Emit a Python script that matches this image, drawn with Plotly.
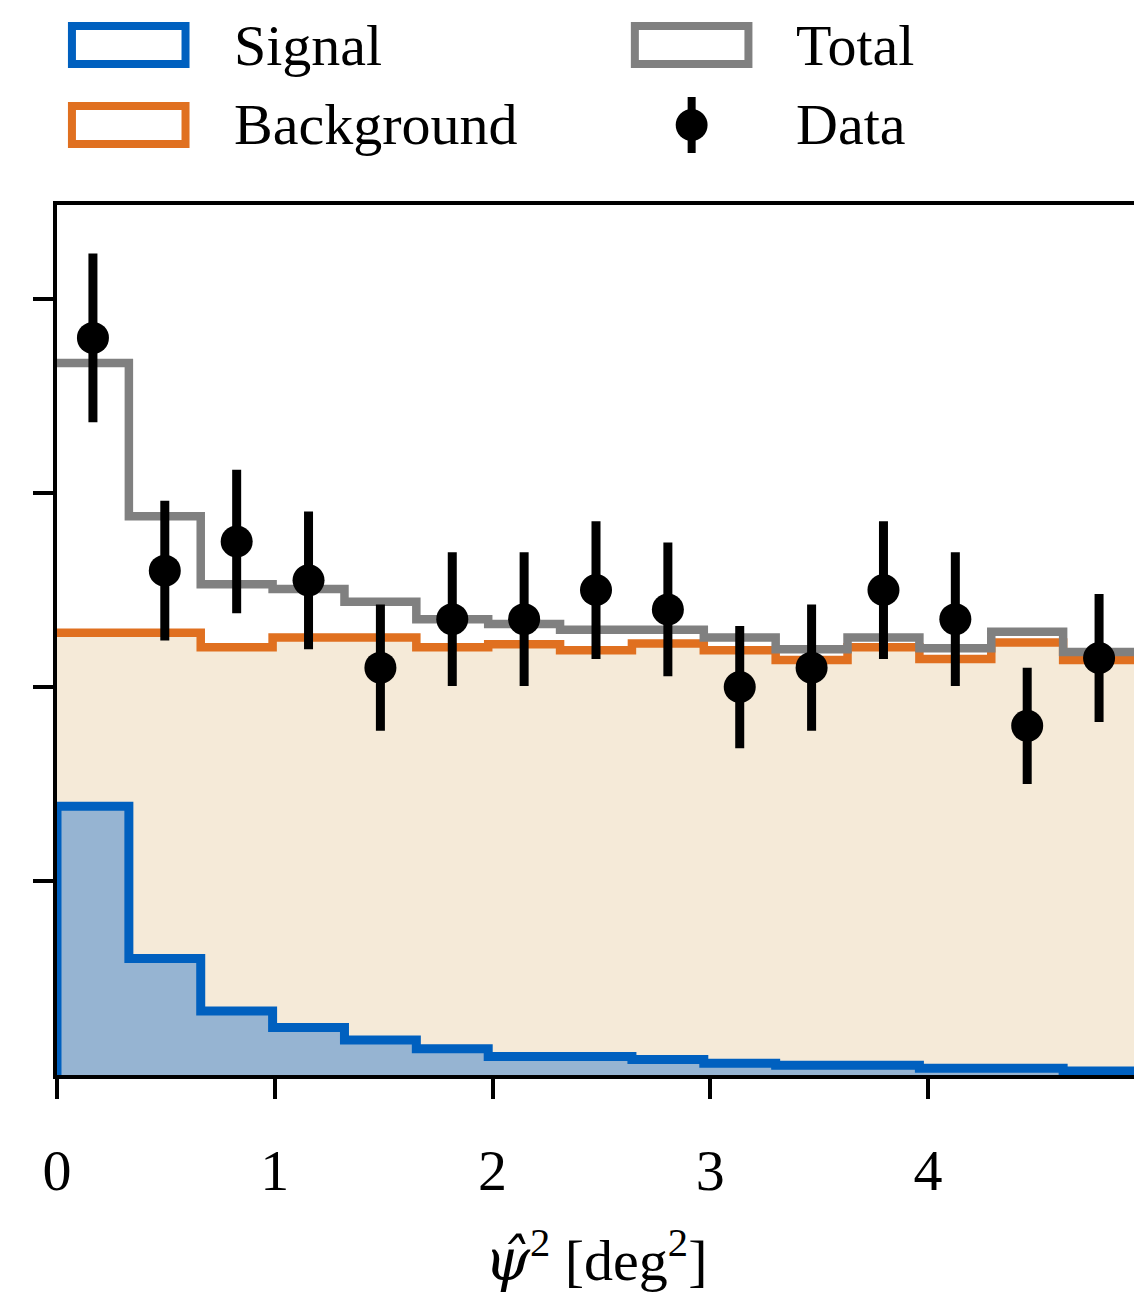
import numpy as np
import plotly.graph_objects as go

# ---- data ----
bin_edges = [0.0, 0.33, 0.66, 0.99, 1.32, 1.65, 1.98, 2.31, 2.64, 2.97,
             3.30, 3.63, 3.96, 4.29, 4.62, 4.95]
signal = [27.7, 12.0, 6.6, 4.9, 3.6, 2.7, 1.9, 1.9, 1.6, 1.2, 1.0, 1.0, 0.7, 0.7, 0.4]
background = [45.6, 45.6, 44.1, 45.1, 45.1, 44.1, 44.4, 43.8, 44.5, 43.8,
              42.8, 44.1, 42.9, 44.6, 42.8]
total = [73.4, 57.6, 50.6, 50.1, 48.8, 47.0, 46.5, 45.9, 45.9, 45.1,
         43.9, 45.1, 44.0, 45.7, 43.6]
data_counts = [76, 52, 55, 51, 42, 47, 47, 50, 48, 40, 42, 50, 47, 36, 43]
data_err = [8.7, 7.2, 7.4, 7.1, 6.5, 6.9, 6.9, 7.1, 6.9, 6.3, 6.5, 7.1, 6.9, 6.0, 6.6]
x_ticks = [0, 1, 2, 3, 4]
y_ticks = [20, 40, 60, 80]
legend_labels = ["Signal", "Background", "Total", "Data"]

BLUE = "#0060BF"
ORANGE = "#E07020"
GREY = "#808080"
BEIGE = "#F5EAD8"
SIGFILL = "#96B4D2"
FONT = "Liberation Serif"

edges = np.array(bin_edges)
centers = (edges[:-1] + edges[1:]) / 2

# page body has an 8px margin; compensate so the plot lands where the reference has it
OFF = 8
W, H = 1142 - OFF, 1297
L, T = 57 - OFF, 205 - OFF
R = W - (1139 - OFF)
B = H - (1075 - OFF)
PW, PH = W - L - R, H - T - B


def px(x):  # window pixel x -> paper
    return (x - OFF - L) / PW


def py(y):  # window pixel y -> paper
    return (H - B - (y - OFF)) / PH


fig = go.Figure()

# background: filled step, no end verticals
fig.add_trace(go.Scatter(
    x=list(edges), y=background + [background[-1]],
    mode="lines", line=dict(shape="hv", color=ORANGE, width=8.5),
    fill="tozeroy", fillcolor=BEIGE, hoverinfo="skip", showlegend=False))

# signal: stepfilled with outline including ends
fig.add_trace(go.Scatter(
    x=[edges[0]] + list(edges) + [edges[-1]],
    y=[0] + signal + [signal[-1], 0],
    mode="lines", line=dict(shape="hv", color=BLUE, width=9),
    fill="tozeroy", fillcolor=SIGFILL, hoverinfo="skip", showlegend=False))

# total
fig.add_trace(go.Scatter(
    x=list(edges), y=total + [total[-1]],
    mode="lines", line=dict(shape="hv", color=GREY, width=8.5),
    hoverinfo="skip", showlegend=False))

# data
fig.add_trace(go.Scatter(
    x=centers, y=data_counts, mode="markers",
    marker=dict(size=32, color="black"),
    error_y=dict(type="data", array=data_err, thickness=9, width=0, color="black"),
    showlegend=False))

axis_common = dict(showline=True, linecolor="black", linewidth=4, mirror=True,
                   ticks="outside", ticklen=20, tickwidth=4, tickcolor="black",
                   showgrid=False, zeroline=False)

title_txt = ("<span style=\"font-family:'DejaVu Serif';font-style:italic\">ψ̂</span>"
             "<sup>2</sup> [deg<sup>2</sup>]")

fig.update_xaxes(range=[0, 4.95], tickvals=x_ticks,
                 tickfont=dict(family=FONT, size=58, color="black"),
                 ticklabelstandoff=21,
                 title=dict(text=title_txt,
                            font=dict(family=FONT, size=58, color="black"),
                            standoff=39),
                 **axis_common)
fig.update_yaxes(range=[0, 89.7], tickvals=y_ticks, showticklabels=False,
                 **axis_common)

# ---- manual legend (box-style handles as in the reference) ----
shapes = []
items = [(BLUE, 72, 26), (ORANGE, 72, 106), (GREY, 637, 26)]
for col, x0, y0 in items:
    shapes.append(dict(type="rect", xref="paper", yref="paper",
                       x0=px(x0), x1=px(x0 + 114), y0=py(y0), y1=py(y0 + 38),
                       line=dict(color=col, width=8), fillcolor="white", layer="above"))
# data handle
shapes.append(dict(type="line", xref="paper", yref="paper",
                   x0=px(694), x1=px(694), y0=py(97), y1=py(153),
                   line=dict(color="black", width=8)))
shapes.append(dict(type="circle", xref="paper", yref="paper",
                   x0=px(678), x1=px(710), y0=py(109), y1=py(141),
                   line=dict(color="black", width=0), fillcolor="black"))

annotations = []
for name, x, y in zip(legend_labels, [233, 233, 797, 797], [45, 125, 45, 125]):
    annotations.append(dict(text=name, xref="paper", yref="paper",
                            x=px(x), y=py(y), xanchor="left", yanchor="middle",
                            showarrow=False,
                            font=dict(family=FONT, size=58, color="black")))

fig.update_layout(width=W, height=H, margin=dict(l=L, r=R, t=T, b=B),
                  plot_bgcolor="white", paper_bgcolor="white",
                  shapes=shapes, annotations=annotations, showlegend=False)

fig.write_html("out.html")
